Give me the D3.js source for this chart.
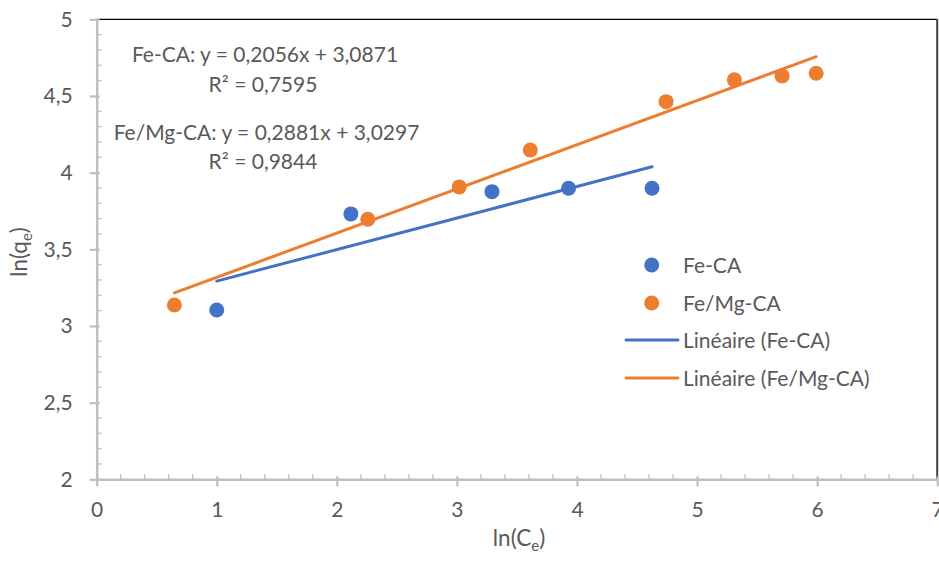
<!DOCTYPE html>
<html><head><meta charset="utf-8">
<script src="https://cdn.jsdelivr.net/npm/d3@7"></script>
<style>
html,body{margin:0;padding:0;background:#fff;}
svg{display:block;font-family:"Lato","Open Sans",sans-serif;}
</style></head>
<body><svg id="c" width="939" height="562"></svg>
<script>
// Data
const feCA_x = [1.000, 2.117, 3.292, 3.930, 4.625];
const feCA_y = [3.104, 3.731, 3.876, 3.898, 3.898];
const feMgCA_x = [0.647, 2.258, 3.019, 3.611, 4.742, 5.311, 5.708, 5.992];
const feMgCA_y = [3.137, 3.696, 3.907, 4.148, 4.463, 4.605, 4.631, 4.648];
const trendSlope = [0.2056, 0.2881];
const trendIntercept = [3.0871, 3.0297];
const seriesNames = ["Fe-CA", "Fe/Mg-CA"];
const eqTexts = ["Fe-CA: y = 0,2056x + 3,0871", "R² = 0,7595", "Fe/Mg-CA: y = 0,2881x + 3,0297", "R² = 0,9844"];
const xTicks = [0,1,2,3,4,5,6,7];
const yTicks = [2,2.5,3,3.5,4,4.5,5];
const colors = ["#4472C4", "#ED7D31"];

const svg = d3.select("#c");
const x = d3.scaleLinear().domain([0,7]).range([96.7, 937.2]);
const y = d3.scaleLinear().domain([2,5]).range([479.3, 19.3]);
const fmt = d => String(d).replace(".", ",");
const axisCol = "#BFBFBF", textCol = "#595959";
const FS = 21;

// plot area border top/right
svg.append("line").attr("x1", x(0)).attr("x2", x(7)).attr("y1", y(5)).attr("y2", y(5)).attr("stroke", "#000").attr("stroke-width", 1.3);
svg.append("line").attr("x1", x(7)).attr("x2", x(7)).attr("y1", y(5)).attr("y2", y(2)).attr("stroke", "#404040").attr("stroke-width", 2);

// minor ticks
const yMinor = d3.range(2, 5.0001, 0.1).map(v => +v.toFixed(1)).filter(v => !yTicks.some(t => Math.abs(t - v) < 1e-6));
const xMinor = d3.range(0, 7.0001, 0.2).map(v => +v.toFixed(1)).filter(v => !xTicks.some(t => Math.abs(t - v) < 1e-6));
svg.append("g").selectAll("line").data(yMinor).join("line")
  .attr("x1", x(0)).attr("x2", x(0) + 5).attr("y1", d => y(d)).attr("y2", d => y(d))
  .attr("stroke", axisCol).attr("stroke-width", 1.3);
svg.append("g").selectAll("line").data(xMinor).join("line")
  .attr("x1", d => x(d)).attr("x2", d => x(d)).attr("y1", y(2)).attr("y2", y(2) - 5)
  .attr("stroke", axisCol).attr("stroke-width", 1.3);

// axes
const yAxis = svg.append("g").attr("transform", `translate(${x(0)},0)`)
  .call(d3.axisLeft(y).tickValues(yTicks).tickFormat(fmt).tickSizeInner(7).tickSizeOuter(0).tickPadding(17));
const xAxis = svg.append("g").attr("transform", `translate(0,${y(2)})`)
  .call(d3.axisBottom(x).tickValues(xTicks).tickFormat(fmt).tickSizeInner(7).tickSizeOuter(0).tickPadding(16));
[yAxis, xAxis].forEach(g => {
  g.select(".domain").attr("stroke", axisCol).attr("stroke-width", 2.5);
  g.selectAll(".tick line").attr("stroke", axisCol).attr("stroke-width", 2.2);
  g.selectAll(".tick text").attr("fill", textCol).attr("font-size", FS).attr("font-family", "Lato, sans-serif");
});
yAxis.selectAll(".tick line").attr("x2", -7).attr("x1", 3);
xAxis.selectAll(".tick line").attr("y1", -3).attr("y2", 7);

// trend lines
const series = [
  {xs: feCA_x, ys: feCA_y},
  {xs: feMgCA_x, ys: feMgCA_y}
];
series.forEach((s, i) => {
  const x0 = d3.min(s.xs), x1 = d3.max(s.xs);
  const pts = [x0, x1].map(v => [v, trendIntercept[i] + trendSlope[i] * v]);
  svg.append("path").attr("d", d3.line().x(d => x(d[0])).y(d => y(d[1]))(pts))
    .attr("stroke", colors[i]).attr("stroke-width", 3).attr("fill", "none").attr("stroke-linecap", "round");
});
// points
series.forEach((s, i) => {
  svg.append("g").selectAll("circle").data(s.xs.map((v, j) => [v, s.ys[j]])).join("circle")
    .attr("cx", d => x(d[0])).attr("cy", d => y(d[1])).attr("r", 7.5).attr("fill", colors[i]);
});

// equations
const eqY = [62, 92, 140, 169];
const eqX = [265, 263, 266.5, 263];
svg.append("g").selectAll("text").data(eqTexts).join("text")
  .attr("x", (d, i) => eqX[i]).attr("y", (d, i) => eqY[i]).attr("text-anchor", "middle")
  .attr("fill", textCol).attr("font-size", FS).text(d => d);

// legend
const leg = svg.append("g");
const legY = [265, 303, 340, 378];
[0,1].forEach(i => {
  leg.append("circle").attr("cx", 651.7).attr("cy", legY[i]).attr("r", 7.5).attr("fill", colors[i]);
  leg.append("text").attr("x", 683).attr("y", legY[i]).attr("dy", "0.36em").attr("fill", textCol).attr("font-size", FS).text(seriesNames[i]);
});
[0,1].forEach(i => {
  leg.append("line").attr("x1", 626).attr("x2", 678).attr("y1", legY[2+i]).attr("y2", legY[2+i])
    .attr("stroke", colors[i]).attr("stroke-width", 3).attr("stroke-linecap", "round");
  leg.append("text").attr("x", 683).attr("y", legY[2+i]).attr("dy", "0.36em").attr("fill", textCol).attr("font-size", FS).text("Linéaire (" + seriesNames[i] + ")");
});

// axis titles
const xt = svg.append("text").attr("x", 519).attr("y", 546).attr("text-anchor", "middle").attr("fill", textCol).attr("font-size", 22.5);
xt.append("tspan").text("ln(C");
xt.append("tspan").attr("font-size", 15).attr("dy", 5).text("e");
xt.append("tspan").attr("dy", -5).text(")");
const yt = svg.append("text").attr("transform", "translate(27,252) rotate(-90)").attr("text-anchor", "middle").attr("fill", textCol).attr("font-size", 22.5);
yt.append("tspan").text("ln(q");
yt.append("tspan").attr("font-size", 15).attr("dy", 5).text("e");
yt.append("tspan").attr("dy", -5).text(")");
</script></body></html>
